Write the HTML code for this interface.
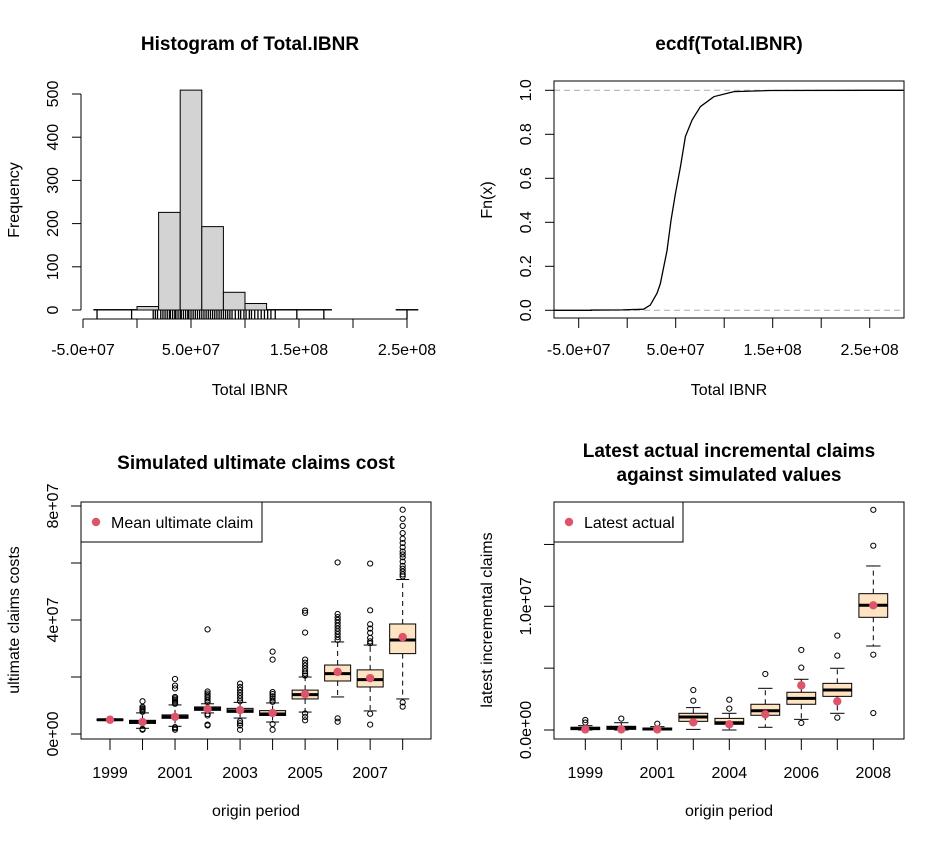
<!DOCTYPE html>
<html><head><meta charset="utf-8">
<style>
html,body{margin:0;padding:0;background:#fff;}
svg{display:block;font-family:"Liberation Sans",Arial,sans-serif;}
</style></head>
<body>
<svg id="chart" width="946" height="841" viewBox="0 0 946 841" xmlns="http://www.w3.org/2000/svg">
<rect width="946" height="841" fill="#fff"/>
<g id="p1"></g>
<g id="p2"></g>
<g id="p3"></g>
<g id="p4"></g>
</svg>
<script>
// ---------- Data ----------
const histBreakStart = -4e7;
const histBinWidth = 2e7;
const histCounts = [1,1,8,226,509,193,41,15,1,1,1,0,0,0,1];
const histXTicks = [-5e7,0,5e7,1e8,1.5e8,2e8,2.5e8];
const histXTickLabels = ["-5.0e+07","","5.0e+07","","1.5e+08","","2.5e+08"];
const histYTicks = [0,100,200,300,400,500];
const rugValues = [-37,-5,15,17,19,22,24,26,28,30,31,33,35,36,38,40,41,43,45,47,48,50,52,54,56,58,60,62,64,66,68,70,72,74,76,78,80,82,84,86,88,91,94,96,99,101,104,106,109,112,115,118,121,124,128,148,173,250];
const ecdfX = [-37,-5,16.9,23.8,30.7,34.1,41,45.2,49.7,54.8,60,66.9,75.5,89.3,110,148,250];
const ecdfF = [0.001,0.002,0.005,0.024,0.077,0.12,0.27,0.41,0.53,0.65,0.79,0.865,0.926,0.971,0.994,0.999,1.0];
const ultYears = ["1999","2000","2001","2002","2003","2004","2005","2006","2007","2008"];
const ultQ1 = [0.48,0.37,0.55,0.83,0.76,0.65,1.23,1.86,1.65,2.82];
const ultMed = [0.50,0.42,0.60,0.88,0.81,0.70,1.38,2.12,1.91,3.30];
const ultQ3 = [0.52,0.48,0.67,0.95,0.90,0.82,1.54,2.42,2.25,3.86];
const ultLo = [0.47,0.20,0.27,0.74,0.56,0.42,0.77,1.30,0.81,1.23];
const ultHi = [0.53,0.74,1.02,1.06,1.11,1.09,2.00,3.23,3.12,5.42];
const ultMean = [0.50,0.42,0.60,0.88,0.84,0.74,1.40,2.18,1.96,3.40];
const ultOut = [
 [],
 [0.15,0.18,0.78,0.82,0.86,0.9,0.95,1.15],
 [0.15,0.2,0.24,1.06,1.1,1.15,1.2,1.25,1.3,1.6,1.7,1.93],
 [0.3,0.33,0.65,0.7,1.12,1.18,1.25,1.3,1.36,1.42,1.49,3.67],
 [0.15,0.3,0.38,0.45,1.15,1.25,1.35,1.45,1.55,1.65,1.77],
 [0.15,0.35,1.13,1.18,1.25,1.32,1.4,1.47,2.61,2.89],
 [0.48,0.6,0.72,2.05,2.12,2.2,2.3,2.4,2.5,2.61,3.56,4.25,4.33],
 [0.43,0.55,3.3,3.4,3.5,3.6,3.7,3.8,3.9,4.0,4.1,4.21,6.02],
 [0.33,0.71,3.18,3.25,3.37,3.55,3.7,3.85,4.34,5.98],
 [0.96,1.11,5.53,5.6,5.7,5.8,5.9,6.05,6.2,6.3,6.4,6.55,6.7,6.85,7.05,7.3,7.55,7.87]
];
const ultYTicks = [0,2,4,6,8];
const ultYTickLabels = ["0e+00","","4e+07","","8e+07"];
const latYears = ["1999","2000","2001","2003","2004","2005","2006","2007","2008"];
const latQ1 = [0.03,0.05,0.0,0.70,0.46,1.19,2.08,2.72,9.11];
const latMed = [0.13,0.19,0.08,1.05,0.59,1.56,2.56,3.23,10.08];
const latQ3 = [0.22,0.30,0.16,1.35,0.94,2.08,3.05,3.77,11.02];
const latLo = [0.0,0.0,0.0,0.05,0.0,0.22,0.86,1.35,6.79];
const latHi = [0.35,0.59,0.27,1.81,1.35,3.37,4.10,4.99,13.26];
const latActual = [0.05,0.05,0.05,0.62,0.46,1.27,3.61,2.32,10.08];
const latOut = [[0.6,0.81],[0.92],[0.51],[2.37,3.23],[1.73,2.45],[4.53],[0.57,5.04,6.47],[1.0,6.01,7.63],[1.37,6.09,14.9,17.8]];
const latYTicks = [0,5,10,15];
const latYTickLabels = ["0.0e+00","","1.0e+07",""];

const NS = "http://www.w3.org/2000/svg";
function mk(parent, tag, attrs, text){
  const e = document.createElementNS(NS, tag);
  for (const k in attrs) e.setAttribute(k, attrs[k]);
  if (text !== undefined) e.textContent = text;
  parent.appendChild(e);
  return e;
}
const F = 16;
const TF = 19;

(function(){
  const g = document.getElementById('p1');
  const xs = v => 83 + (v + 5e7) * 108 / 1e8;
  const ys = c => 310 - c * 216 / 500;
  let t = mk(g,'text',{x:250,y:50,'text-anchor':'middle','font-size':TF,'font-weight':'bold'},'Histogram of Total.IBNR');
  
  
  histCounts.forEach((c,i)=>{
    const x0 = xs(histBreakStart + i*histBinWidth), x1 = xs(histBreakStart + (i+1)*histBinWidth);
    const r = mk(g,'rect',{x:x0,y:ys(c),width:x1-x0,height:310-ys(c),fill:'#d3d3d3',stroke:'#000','stroke-width':1});
    
    
  });
  rugValues.forEach(v=>{
    const x = xs(v*1e6);
    const l = mk(g,'line',{x1:x,x2:x,y1:310,y2:319,stroke:'#000','stroke-width':1.3});
    
    
  });
  mk(g,'line',{x1:xs(histXTicks[0]),x2:xs(histXTicks[histXTicks.length-1]),y1:319,y2:319,stroke:'#000'});
  histXTicks.forEach((v,i)=>{
    mk(g,'line',{x1:xs(v),x2:xs(v),y1:319,y2:328,stroke:'#000'});
    if(histXTickLabels[i]){
      const tl = mk(g,'text',{x:xs(v),y:355,'text-anchor':'middle','font-size':F},histXTickLabels[i]);
      
      
    }
  });
  mk(g,'line',{x1:81,x2:81,y1:ys(0),y2:ys(500),stroke:'#000'});
  histYTicks.forEach(v=>{
    mk(g,'line',{x1:72,x2:81,y1:ys(v),y2:ys(v),stroke:'#000'});
    const tl = mk(g,'text',{x:0,y:0,'text-anchor':'middle','font-size':F,transform:`translate(58,${ys(v)}) rotate(-90)`},String(v));
    
    
  });
  t = mk(g,'text',{x:250,y:395,'text-anchor':'middle','font-size':F},'Total IBNR');
  
  
  t = mk(g,'text',{x:0,y:0,'text-anchor':'middle','font-size':F,transform:'translate(19,200) rotate(-90)'},'Frequency');
  
  
})();

(function(){
  const g = document.getElementById('p2');
  const xs = v => 578.7 + (v*1e6 + 5e7) * 97 / 1e8;
  const ys = f => 310.3 - f * 220;
  let t = mk(g,'text',{x:729,y:50,'text-anchor':'middle','font-size':TF,'font-weight':'bold'},'ecdf(Total.IBNR)');
  
  
  [0,1].forEach(f=>{
    const l = mk(g,'line',{x1:554,x2:904,y1:ys(f),y2:ys(f),stroke:'#aaa','stroke-dasharray':'6,4'});
    
    
  });
  let d = `M554,${ys(0)} L${xs(ecdfX[0])},${ys(0)}`;
  ecdfX.forEach((x,i)=>{ d += ` L${xs(x)},${ys(ecdfF[i])}`; });
  d += ` L904,${ys(1)}`;
  const p = mk(g,'path',{d:d,fill:'none',stroke:'#000','stroke-width':1.3});
  
  
  mk(g,'rect',{x:554,y:81,width:350,height:237,fill:'none',stroke:'#000'});
  const ticks = [-50,0,50,100,150,200,250];
  const labs = ["-5.0e+07","","5.0e+07","","1.5e+08","","2.5e+08"];
  ticks.forEach((v,i)=>{
    mk(g,'line',{x1:xs(v),x2:xs(v),y1:318,y2:328,stroke:'#000'});
    if(labs[i]){
      const tl = mk(g,'text',{x:xs(v),y:355,'text-anchor':'middle','font-size':F},labs[i]);
      
      
    }
  });
  [0,0.2,0.4,0.6,0.8,1.0].forEach(v=>{
    mk(g,'line',{x1:545,x2:554,y1:ys(v),y2:ys(v),stroke:'#000'});
    const tl = mk(g,'text',{x:0,y:0,'text-anchor':'middle','font-size':F,transform:`translate(531,${ys(v)}) rotate(-90)`},v.toFixed(1));
    
    
  });
  t = mk(g,'text',{x:729,y:395,'text-anchor':'middle','font-size':F},'Total IBNR');
  
  
  t = mk(g,'text',{x:0,y:0,'text-anchor':'middle','font-size':F,transform:'translate(492,200) rotate(-90)'},'Fn(x)');
  
  
})();

function boxPanel(g, o){
  const xs = i => o.x0 + i * o.dx;
  const ys = v => o.yZero - v * o.yScale;
  const hw = o.dx * 0.4;
  o.cats.forEach((c,i)=>{
    const x = xs(i);
    const dash = {stroke:'#000','stroke-dasharray':'5,4'};
    mk(g,'line',Object.assign({x1:x,x2:x,y1:ys(o.q3[i]),y2:ys(o.hi[i])},dash));
    mk(g,'line',Object.assign({x1:x,x2:x,y1:ys(o.q1[i]),y2:ys(o.lo[i])},dash));
    mk(g,'line',{x1:x-hw/2,x2:x+hw/2,y1:ys(o.hi[i]),y2:ys(o.hi[i]),stroke:'#000'});
    mk(g,'line',{x1:x-hw/2,x2:x+hw/2,y1:ys(o.lo[i]),y2:ys(o.lo[i]),stroke:'#000'});
    const b = mk(g,'rect',{x:x-hw,y:ys(o.q3[i]),width:2*hw,height:Math.max(ys(o.q1[i])-ys(o.q3[i]),0.5),fill:'#FFE4C4',stroke:'#000'});
    
    
    const m = mk(g,'line',{x1:x-hw,x2:x+hw,y1:ys(o.med[i]),y2:ys(o.med[i]),stroke:'#000','stroke-width':3});
    
    
    o.out[i].forEach(v=>{
      const ci = mk(g,'circle',{cx:x,cy:ys(v),r:2.6,fill:'none',stroke:'#000','stroke-width':1});
      
      
    });
    const dot = mk(g,'circle',{cx:x,cy:ys(o.pts[i]),r:4.2,fill:'#DF536B'});
    
    
    mk(g,'line',{x1:x,x2:x,y1:o.box[3],y2:o.box[3]+11,stroke:'#000'});
    if(i%2===0){
      const tl = mk(g,'text',{x:x,y:778,'text-anchor':'middle','font-size':F},c);
      
      
    }
  });
  mk(g,'rect',{x:o.box[0],y:o.box[1],width:o.box[2]-o.box[0],height:o.box[3]-o.box[1],fill:'none',stroke:'#000'});
  o.yTicks.forEach((v,i)=>{
    mk(g,'line',{x1:o.box[0]-10,x2:o.box[0],y1:ys(v),y2:ys(v),stroke:'#000'});
    if(o.yLabs[i]){
      const tl = mk(g,'text',{x:0,y:0,'text-anchor':'middle','font-size':F,transform:`translate(${o.box[0]-23},${ys(v)}) rotate(-90)`},o.yLabs[i]);
      
      
    }
  });
  const lg = mk(g,'g',{});
  
  
  mk(lg,'rect',{x:o.box[0],y:o.box[1],width:o.legW,height:40,fill:'#fff',stroke:'#000'});
  mk(lg,'circle',{cx:o.box[0]+15,cy:o.box[1]+20,r:4.2,fill:'#DF536B'});
  mk(lg,'text',{x:o.box[0]+30,y:o.box[1]+26,'font-size':F},o.legText);
  const cx = (o.box[0]+o.box[2])/2;
  let t = mk(g,'text',{x:cx,y:816,'text-anchor':'middle','font-size':F},'origin period');
  
  
  t = mk(g,'text',{x:0,y:0,'text-anchor':'middle','font-size':F,transform:`translate(${o.yTitleX},620) rotate(-90)`},o.yTitle);
  
  
}

(function(){
  const g = document.getElementById('p3');
  let t = mk(g,'text',{x:256,y:469,'text-anchor':'middle','font-size':TF,'font-weight':'bold'},'Simulated ultimate claims cost');
  
  
  boxPanel(g,{cats:ultYears,x0:110,dx:32.52,yZero:734,yScale:28.5,q1:ultQ1,med:ultMed,q3:ultQ3,lo:ultLo,hi:ultHi,out:ultOut,pts:ultMean,ptName:'mean-point',
    box:[81,502,431,739],yTicks:ultYTicks,yLabs:ultYTickLabels,legW:181,legText:'Mean ultimate claim',yTitle:'ultimate claims costs',yTitleX:19});
})();
(function(){
  const g = document.getElementById('p4');
  let t = mk(g,'text',{x:729,y:457,'text-anchor':'middle','font-size':TF,'font-weight':'bold'},'Latest actual incremental claims');
  
  
  t = mk(g,'text',{x:729,y:481,'text-anchor':'middle','font-size':TF,'font-weight':'bold'},'against simulated values');
  
  
  boxPanel(g,{cats:latYears,x0:585.3,dx:36,yZero:730,yScale:12.37,q1:latQ1,med:latMed,q3:latQ3,lo:latLo,hi:latHi,out:latOut,pts:latActual,ptName:'actual-point',
    box:[554,502,904,739],yTicks:latYTicks,yLabs:latYTickLabels,legW:129,legText:'Latest actual',yTitle:'latest incremental claims',yTitleX:492});
})();
</script>
</body></html>
